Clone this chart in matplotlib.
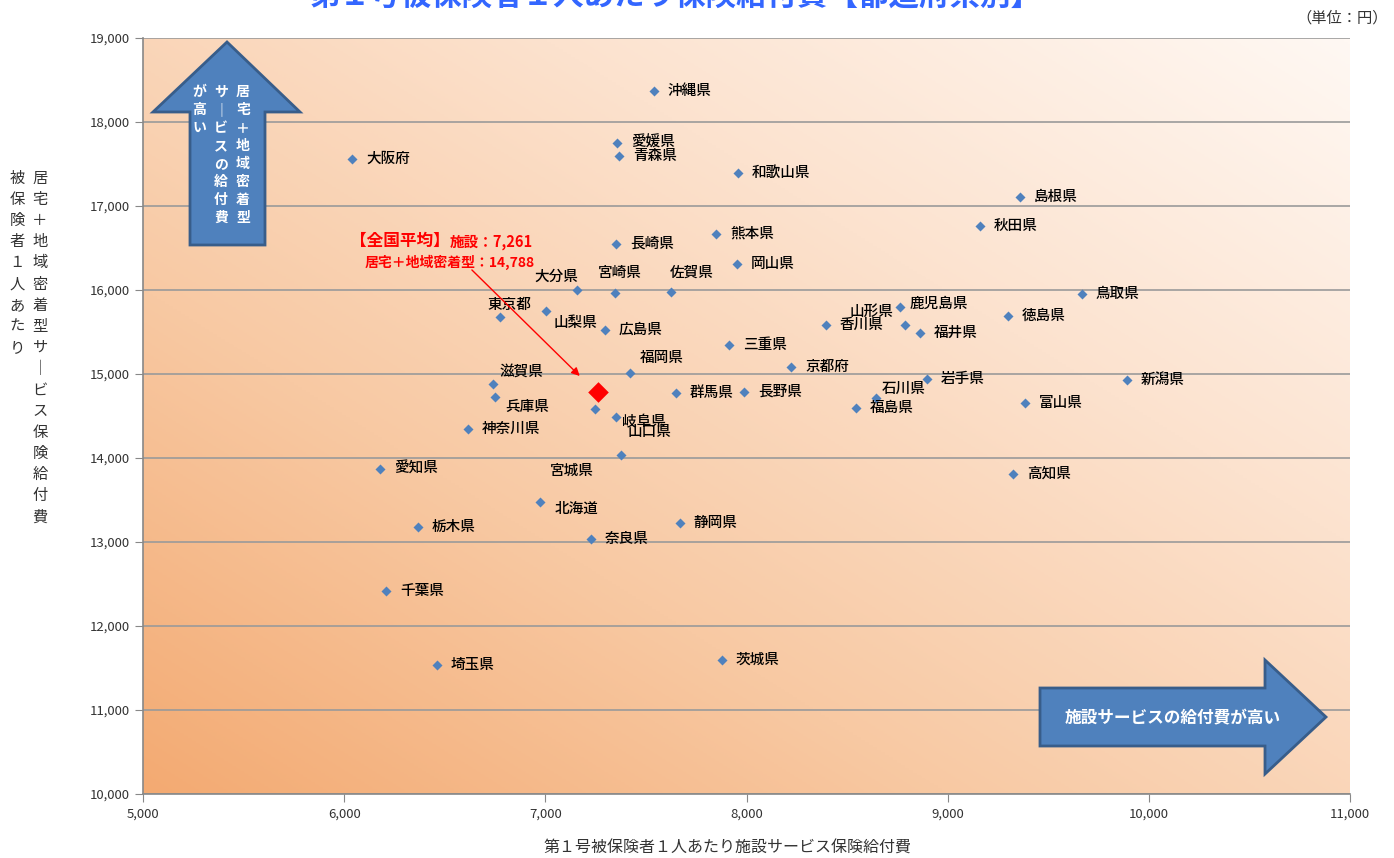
import matplotlib
matplotlib.use('Agg')
import matplotlib.pyplot as plt
import numpy as np
from matplotlib.patches import Polygon
from matplotlib.colors import LinearSegmentedColormap
from matplotlib.ticker import FuncFormatter, MultipleLocator

plt.rcParams['font.family'] = ['Noto Sans CJK JP', 'DejaVu Sans']

# 都道府県別データ（施設, 居宅＋地域密着型）
prefs = ['北海道', '青森県', '岩手県', '宮城県', '秋田県', '山形県', '福島県',
         '茨城県', '栃木県', '群馬県', '埼玉県', '千葉県', '東京都', '神奈川県',
         '新潟県', '富山県', '石川県', '福井県', '山梨県', '長野県', '岐阜県',
         '静岡県', '愛知県', '三重県', '滋賀県', '京都府', '大阪府', '兵庫県',
         '奈良県', '和歌山県', '鳥取県', '島根県', '岡山県', '広島県', '山口県',
         '徳島県', '香川県', '愛媛県', '高知県', '福岡県', '佐賀県', '長崎県',
         '熊本県', '大分県', '宮崎県', '鹿児島県', '沖縄県']
shisetsu = [6973, 7366, 8897, 7376, 9160, 8787, 8544,
            7878, 6367, 7649, 6461, 6208, 6774, 6615,
            9891, 9384, 8643, 8862, 7003, 7987, 7351,
            7669, 6178, 7912, 6740, 8221, 6039, 6749,
            7227, 7957, 9667, 9359, 7952, 7296, 7247,
            9299, 8395, 7356, 9324, 7420, 7624, 7351,
            7848, 7157, 7346, 8762, 7540]
kyotaku = [13476, 17595, 14940, 14036, 16762, 15583, 14595,
           11595, 13179, 14774, 11536, 12417, 15679, 14345,
           14929, 14655, 14714, 15488, 15750, 14786, 14488,
           13226, 13869, 15345, 14881, 15083, 17560, 14726,
           13036, 17393, 15952, 17107, 16310, 15524, 14583,
           15690, 15583, 17750, 13810, 15012, 15976, 16548,
           16667, 16000, 15964, 15798, 18370]
avg_x = 7261
avg_y = 14788

# ラベル位置の調整（ピクセル：右, 下）
default_off = (14, 0)
label_off = {
    '大分県': (-42, -13), '宮崎県': (-17, -20), '佐賀県': (-1, -19),
    '東京都': (-12, -12), '山梨県': (8, 12), '滋賀県': (7, -12),
    '兵庫県': (10, 10), '福岡県': (10, -15), '山形県': (-55, -13),
    '石川県': (6, -9), '宮城県': (-71, 16), '岐阜県': (6, 5),
    '山口県': (33, 23), '北海道': (15, 7), '鹿児島県': (10, -3),
}

W, H = 1394, 858
fig = plt.figure(figsize=(W / 100, H / 100), dpi=100)
ax = fig.add_axes([143 / W, 1 - 794 / H, (1350 - 143) / W, (794 - 38) / H])


def fpx(x, y):
    return (x / W, 1 - y / H)


# 背景グラデーション
cmap = LinearSegmentedColormap.from_list(
    'bg', ['#F3AA72', '#F8C9A3', '#FCE2CE', '#FFF8F3'])
gx, gy = np.meshgrid(np.linspace(0, 1, 300), np.linspace(0, 1, 300))
grad = (gx + gy) / 2
ax.imshow(grad, cmap=cmap, extent=[0, 1, 0, 1], transform=ax.transAxes,
          origin='lower', aspect='auto', zorder=0)

ax.set_xlim(5000, 11000)
ax.set_ylim(10000, 19000)
ax.xaxis.set_major_locator(MultipleLocator(1000))
ax.yaxis.set_major_locator(MultipleLocator(1000))
fmt = FuncFormatter(lambda v, p: f'{int(v):,}')
ax.xaxis.set_major_formatter(fmt)
ax.yaxis.set_major_formatter(fmt)
ax.tick_params(labelsize=9.5, colors='#333333', length=6, color='#888888')
ax.grid(axis='y', color='#9A9A9A', linewidth=1.2, zorder=1)
for s in ['top', 'right']:
    ax.spines[s].set_visible(False)
for s in ['left', 'bottom']:
    ax.spines[s].set_color('#888888')
    ax.spines[s].set_linewidth(1.2)

ax.scatter(shisetsu, kyotaku, marker='D', s=26, color='#4F81BD', zorder=3,
           linewidths=0)
ax.scatter([avg_x], [avg_y], marker='D', s=110, color='#FF0000', zorder=4,
           linewidths=0)

for name, x, y in zip(prefs, shisetsu, kyotaku):
    dx, dy = label_off.get(name, default_off)
    ax.annotate(name, (x, y), xytext=(dx * 0.72, -dy * 0.72),
                textcoords='offset points', fontsize=10.5, color='#000000',
                weight='medium', va='center', ha='left', zorder=5)

# 全国平均の注記
fig.text(*fpx(350, 241), '【全国平均】', color='#FF0000', fontsize=12,
         weight='bold', va='center', ha='left')
fig.text(*fpx(450, 242), '施設：7,261', color='#FF0000', fontsize=10.5,
         weight='bold', va='center', ha='left')
fig.text(*fpx(365, 262), '居宅＋地域密着型：14,788', color='#FF0000',
         fontsize=10, weight='bold', va='center', ha='left')
ax.annotate('', xy=(avg_x - 80, avg_y + 165), xytext=(6625, 16262),
            arrowprops=dict(arrowstyle='-|>', color='#FF0000', lw=1,
                            mutation_scale=12), zorder=5)

# 矢印
up = [(190, 245), (190, 112), (153, 112), (227, 42), (300, 112),
      (265, 112), (265, 245)]
right = [(1040, 688), (1265, 688), (1265, 660), (1326, 717), (1265, 774),
         (1265, 746), (1040, 746)]
for pts in (up, right):
    fig.patches.append(Polygon([fpx(*p) for p in pts], closed=True,
                               transform=fig.transFigure, facecolor='#4F81BD',
                               edgecolor='#385D8A', linewidth=2, zorder=6))


def vtext(x, y0, s, step, **kw):
    for i, ch in enumerate(s):
        if ch == 'ー':
            ch = '｜'
        fig.text(*fpx(x, y0 + i * step), ch, ha='center', va='center', **kw)


wkw = dict(color='white', fontsize=10, weight='bold', zorder=7)
vtext(243, 92, '居宅＋地域密着型', 18, **wkw)
vtext(221, 92, 'サービスの給付費', 18, **wkw)
vtext(199, 92, 'が高い', 18, **wkw)
fig.text(*fpx(1173, 718), '施設サービスの給付費が高い', color='white',
         fontsize=12, weight='bold', ha='center', va='center', zorder=7)

# 軸ラベル
ykw = dict(color='#333333', fontsize=11)
vtext(40, 178, '居宅＋地域密着型サービス保険給付費', 21.2, **ykw)
vtext(17, 178, '被保険者１人あたり', 21.2, **ykw)
fig.text(*fpx(727, 848), '第１号被保険者１人あたり施設サービス保険給付費',
         color='#333333', fontsize=11.5, ha='center', va='center')

fig.text(*fpx(675, -4), '第１号被保険者１人あたり保険給付費【都道府県別】',
         color='#3366FF', fontsize=22, weight='bold', ha='center', va='center')
fig.text(*fpx(1388, 18), '（単位：円）', color='#333333', fontsize=11,
         ha='right', va='center')

fig.savefig('out.png', dpi=100)
